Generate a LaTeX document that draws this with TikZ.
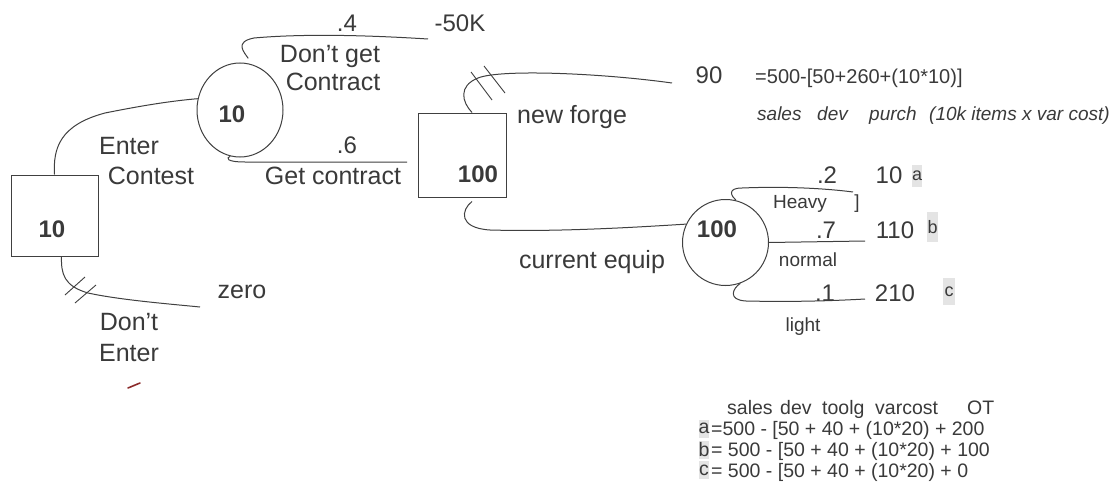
\documentclass[tikz,border=0pt]{standalone}
\usepackage{fontspec}
\setmainfont{Liberation Sans}
\usetikzlibrary{shapes.geometric}
\definecolor{ink}{HTML}{3A3A3A}
\definecolor{lin}{HTML}{404040}
\definecolor{hl}{HTML}{E4E4E4}
\definecolor{redmark}{HTML}{8B2A2A}
\begin{document}
\begin{tikzpicture}[x=1pt,y=-1pt,
  lbl/.style={text=ink, inner sep=0pt, text height=18pt, text depth=0pt, font=\fontsize{25}{28}\selectfont},
  num/.style={lbl, text height=17.3pt, font=\fontsize{24}{28}\selectfont},
  bnum/.style={lbl, text height=17.3pt, font=\fontsize{24}{28}\selectfont\bfseries},
  small/.style={lbl, text height=13.7pt, font=\fontsize{19}{22}\selectfont},
  frm/.style={lbl, text height=14.4pt, font=\fontsize{20}{24}\selectfont},
  itl/.style={lbl, text height=13.7pt, font=\fontsize{19}{24}\selectfont\itshape},
  tbl/.style={lbl, text height=14pt, font=\fontsize{19.5}{22}\selectfont},
  hlt/.style={fill=hl, text=ink, inner sep=0pt, font=\fontsize{18}{20}\selectfont},
  box/.style={draw=lin, line width=1pt, rectangle, inner sep=0pt},
  chance/.style={draw=lin, line width=1pt, ellipse, inner sep=0pt},
  conn/.style={draw=lin, line width=1pt},
  tick/.style={draw=lin, line width=0.9pt}]
\useasboundingbox (0,0) rectangle (1114,487);
\fill[white] (0,0) rectangle (1114,487);

% decision and chance nodes
\node[box, minimum width=87pt, minimum height=81pt] (b1) at (54.5,215.5) {};
\node[bnum] (b1t) at (52,228.5) {10};
\node[chance, minimum width=86pt, minimum height=94pt] (c1) at (240,110) {};
\node[bnum] (c1t) at (232,113.5) {10};
\node[box, minimum width=88pt, minimum height=84pt] (b2) at (462,155) {};
\node[bnum] (b2t) at (478,173.5) {100};
\node[chance, minimum width=86pt, minimum height=86pt] (c3) at (725.5,242.5) {};
\node[bnum] (c3t) at (717,228.5) {100};

% free ends
\coordinate (e4) at (428,39);
\coordinate (e6) at (407,162);
\coordinate (e9) at (672,83);
\coordinate (eh) at (853,192);
\coordinate (en) at (865,241);
\coordinate (el) at (865,299);
\coordinate (ez) at (200,307);

% connectors
\draw[conn] (b1.north) .. controls (53,148) and (60,125) .. (105,113) .. controls (140,106) and (170,101) .. (c1.165);
\draw[conn] ([yshift=5pt]c1.80) .. controls (244,52) and (234,42) .. (254,38) .. controls (310,33) and (380,36) .. (e4);
\draw[conn] (c1.258) .. controls (226,158) and (226,162) .. (245,162) .. controls (300,162) and (370,162) .. (e6);
\draw[conn] ([xshift=10pt]b2.north) .. controls (462,102) and (458,86) .. (478,78) .. controls (500,69) and (600,73) .. (e9);
\draw[tick] (471,72) -- (492,100);
\draw[tick] (484,66) -- (505,93);
\draw[conn] ([xshift=10pt,yshift=-4pt]b2.south) .. controls (461,210) and (458,228) .. (490,230) .. controls (560,232) and (640,227) .. (c3.155);
\draw[conn] (c3.76) .. controls (731,196) and (727,188) .. (742,188) .. controls (790,186) and (830,189) .. (eh);
\draw[conn] (c3.east) -- (en);
\draw[conn] (c3.290) .. controls (733,288) and (727,300) .. (746,301) .. controls (790,302) and (830,301) .. (el);
\draw[conn] ([xshift=7pt]b1.south) .. controls (61,274) and (64,286) .. (88,293) .. controls (120,300) and (170,304) .. (ez);
\draw[tick] (65,295) -- (85,277);
\draw[tick] (75,303) -- (96,285);
\draw[redmark, line width=1.6pt, line cap=round] (128,388) -- (140,383);

% branch labels
\node[num] (p4) at (347,23) {.4};
\node[num] (v4) at (460,23) {-50K};
\node[lbl] (dg1) at (330,53.5) {Don’t get};
\node[lbl] (dg2) at (333,82) {Contract};
\node[num] (p6) at (347,144.5) {.6};
\node[lbl] (gc) at (333,175) {Get contract};
\node[lbl] (ec1) at (129,145) {Enter};
\node[lbl] (ec2) at (151,175) {Contest};
\node[lbl, anchor=west] (nf) at (517,114) {new forge};
\node[num] (v90) at (709,75) {90};
\node[frm, anchor=west] (f90) at (755,76.5) {=500-[50+260+(10*10)]};
\node[itl, anchor=west] (s1) at (757,113.5) {sales};
\node[itl, anchor=west] (s2) at (817,113.5) {dev};
\node[itl, anchor=west] (s3) at (869,113.5) {purch};
\node[itl, anchor=west] (s4) at (929,113.5) {(10k items x var cost)};
\node[lbl] (ce) at (592,259) {current equip};

\node[num] (p2) at (827,175) {.2};
\node[num] (v10) at (889,175) {10};
\node[hlt, minimum width=10pt, minimum height=22pt] (ha) at (917,176) {a};
\node[small] (hv) at (800,201.5) {Heavy};
\node[small, anchor=base] (br) at (857,208) {]};
\node[num] (p7) at (826,229.5) {.7};
\node[num] (v110) at (895,229.5) {110};
\node[hlt, minimum width=11pt, minimum height=30pt] (hb) at (932.5,227) {b};
\node[small] (nm) at (808,260) {normal};
\node[num] (p1) at (825,292.5) {.1};
\node[num] (v210) at (895,292.5) {210};
\node[hlt, minimum width=12pt, minimum height=27pt] (hc) at (949,291.5) {c};
\node[small] (lt) at (803,325) {light};

\node[lbl] (zr) at (242,289) {zero};
\node[lbl] (de1) at (129,321.5) {Don’t};
\node[lbl] (de2) at (129,352.5) {Enter};

% table
\node[tbl, anchor=west] (t1) at (727,407.5) {sales};
\node[tbl, anchor=west] (t2) at (780,407.5) {dev};
\node[tbl, anchor=west] (t3) at (822,407.5) {toolg};
\node[tbl, anchor=west] (t4) at (875,407.5) {varcost};
\node[tbl, anchor=west] (t5) at (967,407.5) {OT};
\node[hlt, minimum width=9pt, minimum height=18pt, font=\fontsize{19.5}{22}\selectfont] (ra) at (704,428.5) {a};
\node[tbl, anchor=west] (rat) at (711,428.5) {=500 - [50 + 40 + (10*20) + 200};
\node[hlt, minimum width=9pt, minimum height=18pt, font=\fontsize{19.5}{22}\selectfont] (rb) at (704,449.5) {b};
\node[tbl, anchor=west] (rbt) at (711,449.5) {= 500 - [50 + 40 + (10*20) + 100};
\node[hlt, minimum width=9pt, minimum height=18pt, font=\fontsize{19.5}{22}\selectfont] (rc) at (704,470) {c};
\node[tbl, anchor=west] (rct) at (711,470) {= 500 - [50 + 40 + (10*20) + 0};
\end{tikzpicture}
\end{document}
